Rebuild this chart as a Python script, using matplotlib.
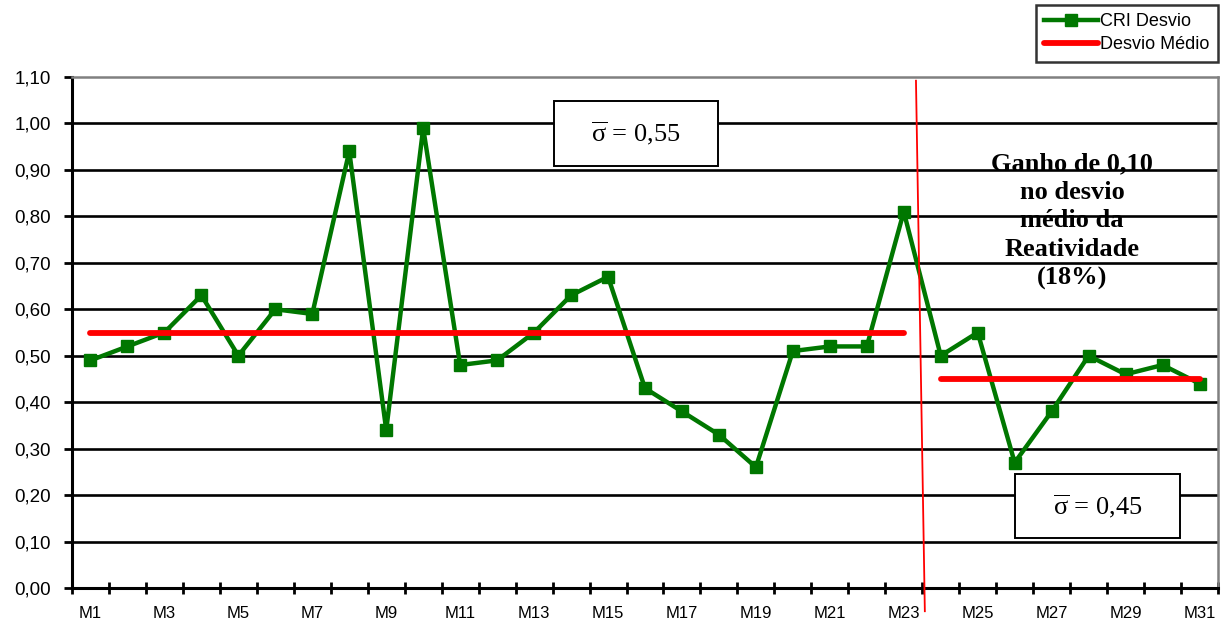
import numpy as np
import matplotlib
matplotlib.use("Agg")
import matplotlib.pyplot as plt
from matplotlib.patches import Rectangle
from matplotlib.ticker import FuncFormatter

# ---- data ----
meses = [f"M{i}" for i in range(1, 32)]
cri_desvio = [0.49, 0.52, 0.55, 0.63, 0.50, 0.60, 0.59, 0.94, 0.34, 0.99,
              0.48, 0.49, 0.55, 0.63, 0.67, 0.43, 0.38, 0.33, 0.26, 0.51,
              0.52, 0.52, 0.81,
              0.50, 0.55, 0.27, 0.38, 0.50, 0.46, 0.48, 0.44]
desvio_medio_antes = 0.55
desvio_medio_depois = 0.45
n_antes = 23
y_ticks = [round(0.1 * k, 2) for k in range(12)]

plt.rcParams["font.family"] = ["Liberation Sans", "DejaVu Sans"]
plt.rcParams["mathtext.fontset"] = "custom"
plt.rcParams["mathtext.rm"] = "Liberation Serif"
plt.rcParams["mathtext.it"] = "Liberation Serif"

fig = plt.figure(figsize=(12.25, 6.3), dpi=100)
ax = fig.add_axes([72 / 1225, 1 - 588 / 630, (1218 - 72) / 1225, (588 - 77) / 630])

x = np.arange(len(meses))
ax.set_xlim(-0.5, len(meses) - 0.5)
ax.set_ylim(0, 1.10)

# horizontal grid lines (drawn over the annotation text)
for yv in y_ticks[1:-1]:
    ax.axhline(yv, color="black", lw=1.9, zorder=1.5)

# series
ax.plot(x, cri_desvio, color="#007700", lw=3.2, marker="s", markersize=9,
        markeredgecolor="#007700", markerfacecolor="#007700", zorder=3,
        label="CRI Desvio")
ax.plot(x[:n_antes], [desvio_medio_antes] * n_antes, color="#ff0000", lw=4.2,
        solid_capstyle="round", zorder=4, label="Desvio Médio")
n_dep = len(meses) - n_antes
ax.plot(x[n_antes:], [desvio_medio_depois] * n_dep, color="#ff0000", lw=4.2,
        solid_capstyle="round", zorder=4)

# separator between the two periods
ax.plot([22.33, 22.57], [1.092, -0.05], color="#ff0000", lw=1.3, zorder=5,
        clip_on=False)

# value boxes
def caixa(x0, x1, y0, y1, texto):
    ax.add_patch(Rectangle((x0, y0), x1 - x0, y1 - y0, facecolor="white",
                           edgecolor="black", lw=1.4, zorder=6))
    ax.text((x0 + x1) / 2, (y0 + y1) / 2, texto, ha="center", va="center",
            fontsize=19, family=["Liberation Serif", "DejaVu Serif"], zorder=7)

caixa(12.54, 16.97, 0.908, 1.048, r"$\overline{\mathrm{σ}}$ = 0,55")
caixa(25.0, 29.47, 0.108, 0.246, r"$\overline{\mathrm{σ}}$ = 0,45")

ax.text(26.55, 0.79, "Ganho de 0,10\nno desvio\nmédio da\nReatividade\n(18%)",
        ha="center", va="center", fontsize=19, fontweight="bold",
        family=["Liberation Serif", "DejaVu Serif"], linespacing=1.3, zorder=1)

# spines
for s in ("left", "bottom"):
    ax.spines[s].set_linewidth(2.2)
    ax.spines[s].set_color("black")
for s in ("top", "right"):
    ax.spines[s].set_linewidth(1.8)
    ax.spines[s].set_color("#808080")

# axes ticks
ax.set_yticks(y_ticks)
ax.yaxis.set_major_formatter(FuncFormatter(lambda v, p: f"{v:.2f}".replace(".", ",")))
ax.tick_params(axis="y", direction="out", length=6, width=2, labelsize=13.5, pad=9)

ax.set_xticks(x[::2])
ax.set_xticklabels(meses[::2])
ax.set_xticks(np.arange(-0.5, len(meses), 1), minor=True)
ax.tick_params(axis="x", which="major", length=0, labelsize=12, pad=13)
ax.tick_params(axis="x", which="minor", direction="inout", length=9, width=2)

# legend
leg = fig.legend(loc="upper right", bbox_to_anchor=(1218 / 1225, 1 - 5 / 630),
                 fontsize=13, frameon=True, fancybox=False, borderaxespad=0,
                 handlelength=3.0, handletextpad=0.15, borderpad=0.45,
                 labelspacing=0.35, markerscale=1.0)
leg.get_frame().set_edgecolor("black")
leg.get_frame().set_linewidth(1.8)

fig.savefig("out.png", dpi=100)
